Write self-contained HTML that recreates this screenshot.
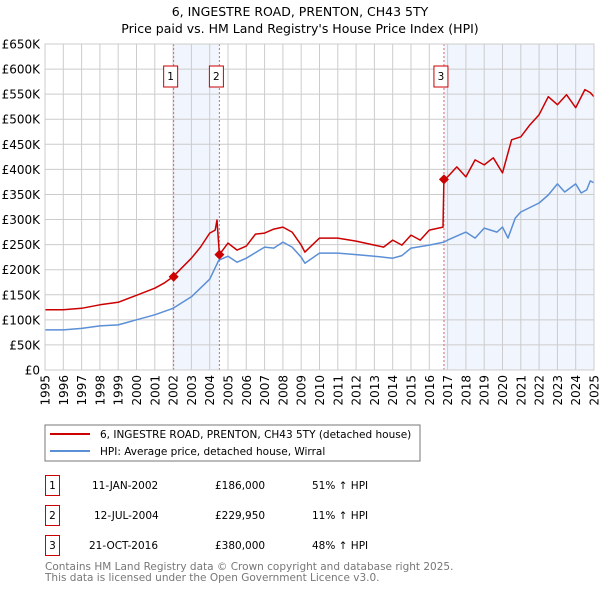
<!DOCTYPE html>
<html><head><meta charset="utf-8"><style>
body{margin:0;background:#fff;font-family:"DejaVu Sans","Liberation Sans",sans-serif;}
svg text{font-family:"DejaVu Sans","Liberation Sans",sans-serif;}
</style></head><body>
<svg width="600" height="590" xmlns="http://www.w3.org/2000/svg">
<text x="300" y="16" text-anchor="middle" font-size="12.5">6, INGESTRE ROAD, PRENTON, CH43 5TY</text>
<text x="300" y="33" text-anchor="middle" font-size="12.5">Price paid vs. HM Land Registry's House Price Index (HPI)</text>
<g id="plot"></g>
<rect x="45" y="425" width="375" height="36" fill="#fff" stroke="#777" stroke-width="1"/>
<line x1="50" y1="434" x2="90" y2="434" stroke="#cc0000" stroke-width="2"/>
<text x="100" y="438" font-size="10.5">6, INGESTRE ROAD, PRENTON, CH43 5TY (detached house)</text>
<line x1="50" y1="451" x2="90" y2="451" stroke="#5b8fd6" stroke-width="2"/>
<text x="100" y="455" font-size="10.5">HPI: Average price, detached house, Wirral</text>
<g font-size="10.5">
<rect x="45.5" y="475.5" width="14" height="20" fill="#fff" stroke="#cc0000"/>
<text x="52.5" y="489" text-anchor="middle">1</text>
<text x="92" y="489">11-JAN-2002</text><text x="215" y="489">£186,000</text><text x="312" y="489">51% ↑ HPI</text>
<rect x="45.5" y="505.5" width="14" height="20" fill="#fff" stroke="#cc0000"/>
<text x="52.5" y="519" text-anchor="middle">2</text>
<text x="94" y="519">12-JUL-2004</text><text x="215" y="519">£229,950</text><text x="312" y="519">11% ↑ HPI</text>
<rect x="45.5" y="535.5" width="14" height="20" fill="#fff" stroke="#cc0000"/>
<text x="52.5" y="549" text-anchor="middle">3</text>
<text x="89" y="549">21-OCT-2016</text><text x="215" y="549">£380,000</text><text x="312" y="549">48% ↑ HPI</text>
</g>
<text x="45" y="570" font-size="10.5" fill="#777">Contains HM Land Registry data © Crown copyright and database right 2025.</text>
<text x="45" y="581" font-size="10.5" fill="#777">This data is licensed under the Open Government Licence v3.0.</text>
</svg>
<script>
const hpiYears=[1995,1996,1997,1998,1999,2000,2001,2002,2003,2004,2004.5,2005,2005.5,2006,2007,2007.5,2008,2008.5,2009,2009.2,2010,2011,2012,2013,2013.5,2014,2014.5,2015,2016,2016.8,2017,2018,2018.5,2019,2019.7,2020,2020.3,2020.7,2021,2022,2022.5,2023,2023.4,2024,2024.3,2024.6,2024.8,2025];
const hpiValues=[80,80,83,88,90,100,110,123,146,181,219,227,215,223,245,243,255,245,225,213,233,233,230,227,225,223,228,243,249,255,259,275,263,283,275,285,263,303,315,333,349,371,355,371,353,359,377,373];
const redYears=[1995,1996,1997,1998,1999,2000,2001,2001.5,2002,2003,2003.5,2004,2004.3,2004.4,2004.53,2005,2005.5,2006,2006.5,2007,2007.5,2008,2008.5,2009,2009.2,2010,2011,2012,2013,2013.5,2014,2014.5,2015,2015.5,2016,2016.75,2016.8,2017,2017.5,2018,2018.5,2019,2019.5,2020,2020.5,2021,2021.5,2022,2022.5,2023,2023.5,2024,2024.5,2024.8,2025];
const redValues=[120,120,123,130,135,149,163,173,186,223,245,273,279,299,230,253,239,247,271,273,281,285,275,249,235,263,263,257,249,245,259,249,269,259,279,285,380,385,405,385,419,409,423,393,459,465,489,509,545,529,549,523,559,553,545];
const saleYears=[2002.03,2004.53,2016.8];
const saleValues=[186,229.95,380];
const saleLabels=["1","2","3"];
const yTicks=[0,50,100,150,200,250,300,350,400,450,500,550,600,650];
const yTickLabels=["£0","£50K","£100K","£150K","£200K","£250K","£300K","£350K","£400K","£450K","£500K","£550K","£600K","£650K"];
const xTicks=[1995,1996,1997,1998,1999,2000,2001,2002,2003,2004,2005,2006,2007,2008,2009,2010,2011,2012,2013,2014,2015,2016,2017,2018,2019,2020,2021,2022,2023,2024,2025];

const X0=45,X1=594,Y0=370,Y1=44;
function xs(y){return X0+(y-1995)/30*(X1-X0);}
function ys(v){return Y0-v/650*(Y0-Y1);}
const NS="http://www.w3.org/2000/svg";
const g=document.getElementById('plot');
function mk(t,a){const e=document.createElementNS(NS,t);for(const k in a)e.setAttribute(k,a[k]);g.appendChild(e);return e;}
let s1=mk('rect',{x:xs(saleYears[0]),y:Y1,width:xs(saleYears[1])-xs(saleYears[0]),height:Y0-Y1,fill:'#eef3fc',opacity:0.8});


let s2=mk('rect',{x:xs(saleYears[2]),y:Y1,width:X1-xs(saleYears[2]),height:Y0-Y1,fill:'#eef3fc',opacity:0.8});


yTicks.forEach((v,i)=>{
  const l=mk('line',{x1:X0,x2:X1,y1:ys(v),y2:ys(v),stroke:'#cccccc','stroke-width':1});
  
  
  const t=mk('text',{x:40,y:ys(v)+4.5,'text-anchor':'end','font-size':12});
  t.textContent=yTickLabels[i];
  
  
});
xTicks.forEach(yr=>{
  const l=mk('line',{x1:xs(yr),x2:xs(yr),y1:Y1,y2:Y0,stroke:'#cccccc','stroke-width':1});
  
  
  const t=mk('text',{x:0,y:0,'text-anchor':'end','font-size':12,transform:`translate(${xs(yr)+4.5},375) rotate(-90)`});
  t.textContent=String(yr);
  
  
});
saleYears.forEach(yr=>{
  const l=mk('line',{x1:xs(yr),x2:xs(yr),y1:Y1,y2:Y0,stroke:'#e06666','stroke-width':1,'stroke-dasharray':'2,2'});
  
  
});
function path(xa,va,col,name){
  const d=xa.map((x,i)=>(i?'L':'M')+xs(x).toFixed(1)+','+ys(va[i]).toFixed(1)).join('');
  const p=mk('path',{d:d,fill:'none',stroke:col,'stroke-width':1.5,'stroke-linejoin':'round'});
  
  
}
path(hpiYears,hpiValues,'#5b8fd6','hpi-line');
path(redYears,redValues,'#cc0000','property-price-line');
saleYears.forEach((yr,i)=>{
  const cx=xs(yr),cy=ys(saleValues[i]);
  const m=mk('path',{d:`M${cx},${cy-5}L${cx+5},${cy}L${cx},${cy+5}L${cx-5},${cy}Z`,fill:'#cc0000'});
  
  
  const b=mk('rect',{x:cx-10,y:66,width:14,height:21,fill:'#fff',stroke:'#cc0000'});
  
  
  const t=mk('text',{x:cx-3,y:80,'text-anchor':'middle','font-size':10.5});
  t.textContent=saleLabels[i];
  
  
});
const bd=mk('rect',{x:X0,y:Y1,width:X1-X0,height:Y0-Y1,fill:'none',stroke:'#cccccc'});


</script>
</body></html>
